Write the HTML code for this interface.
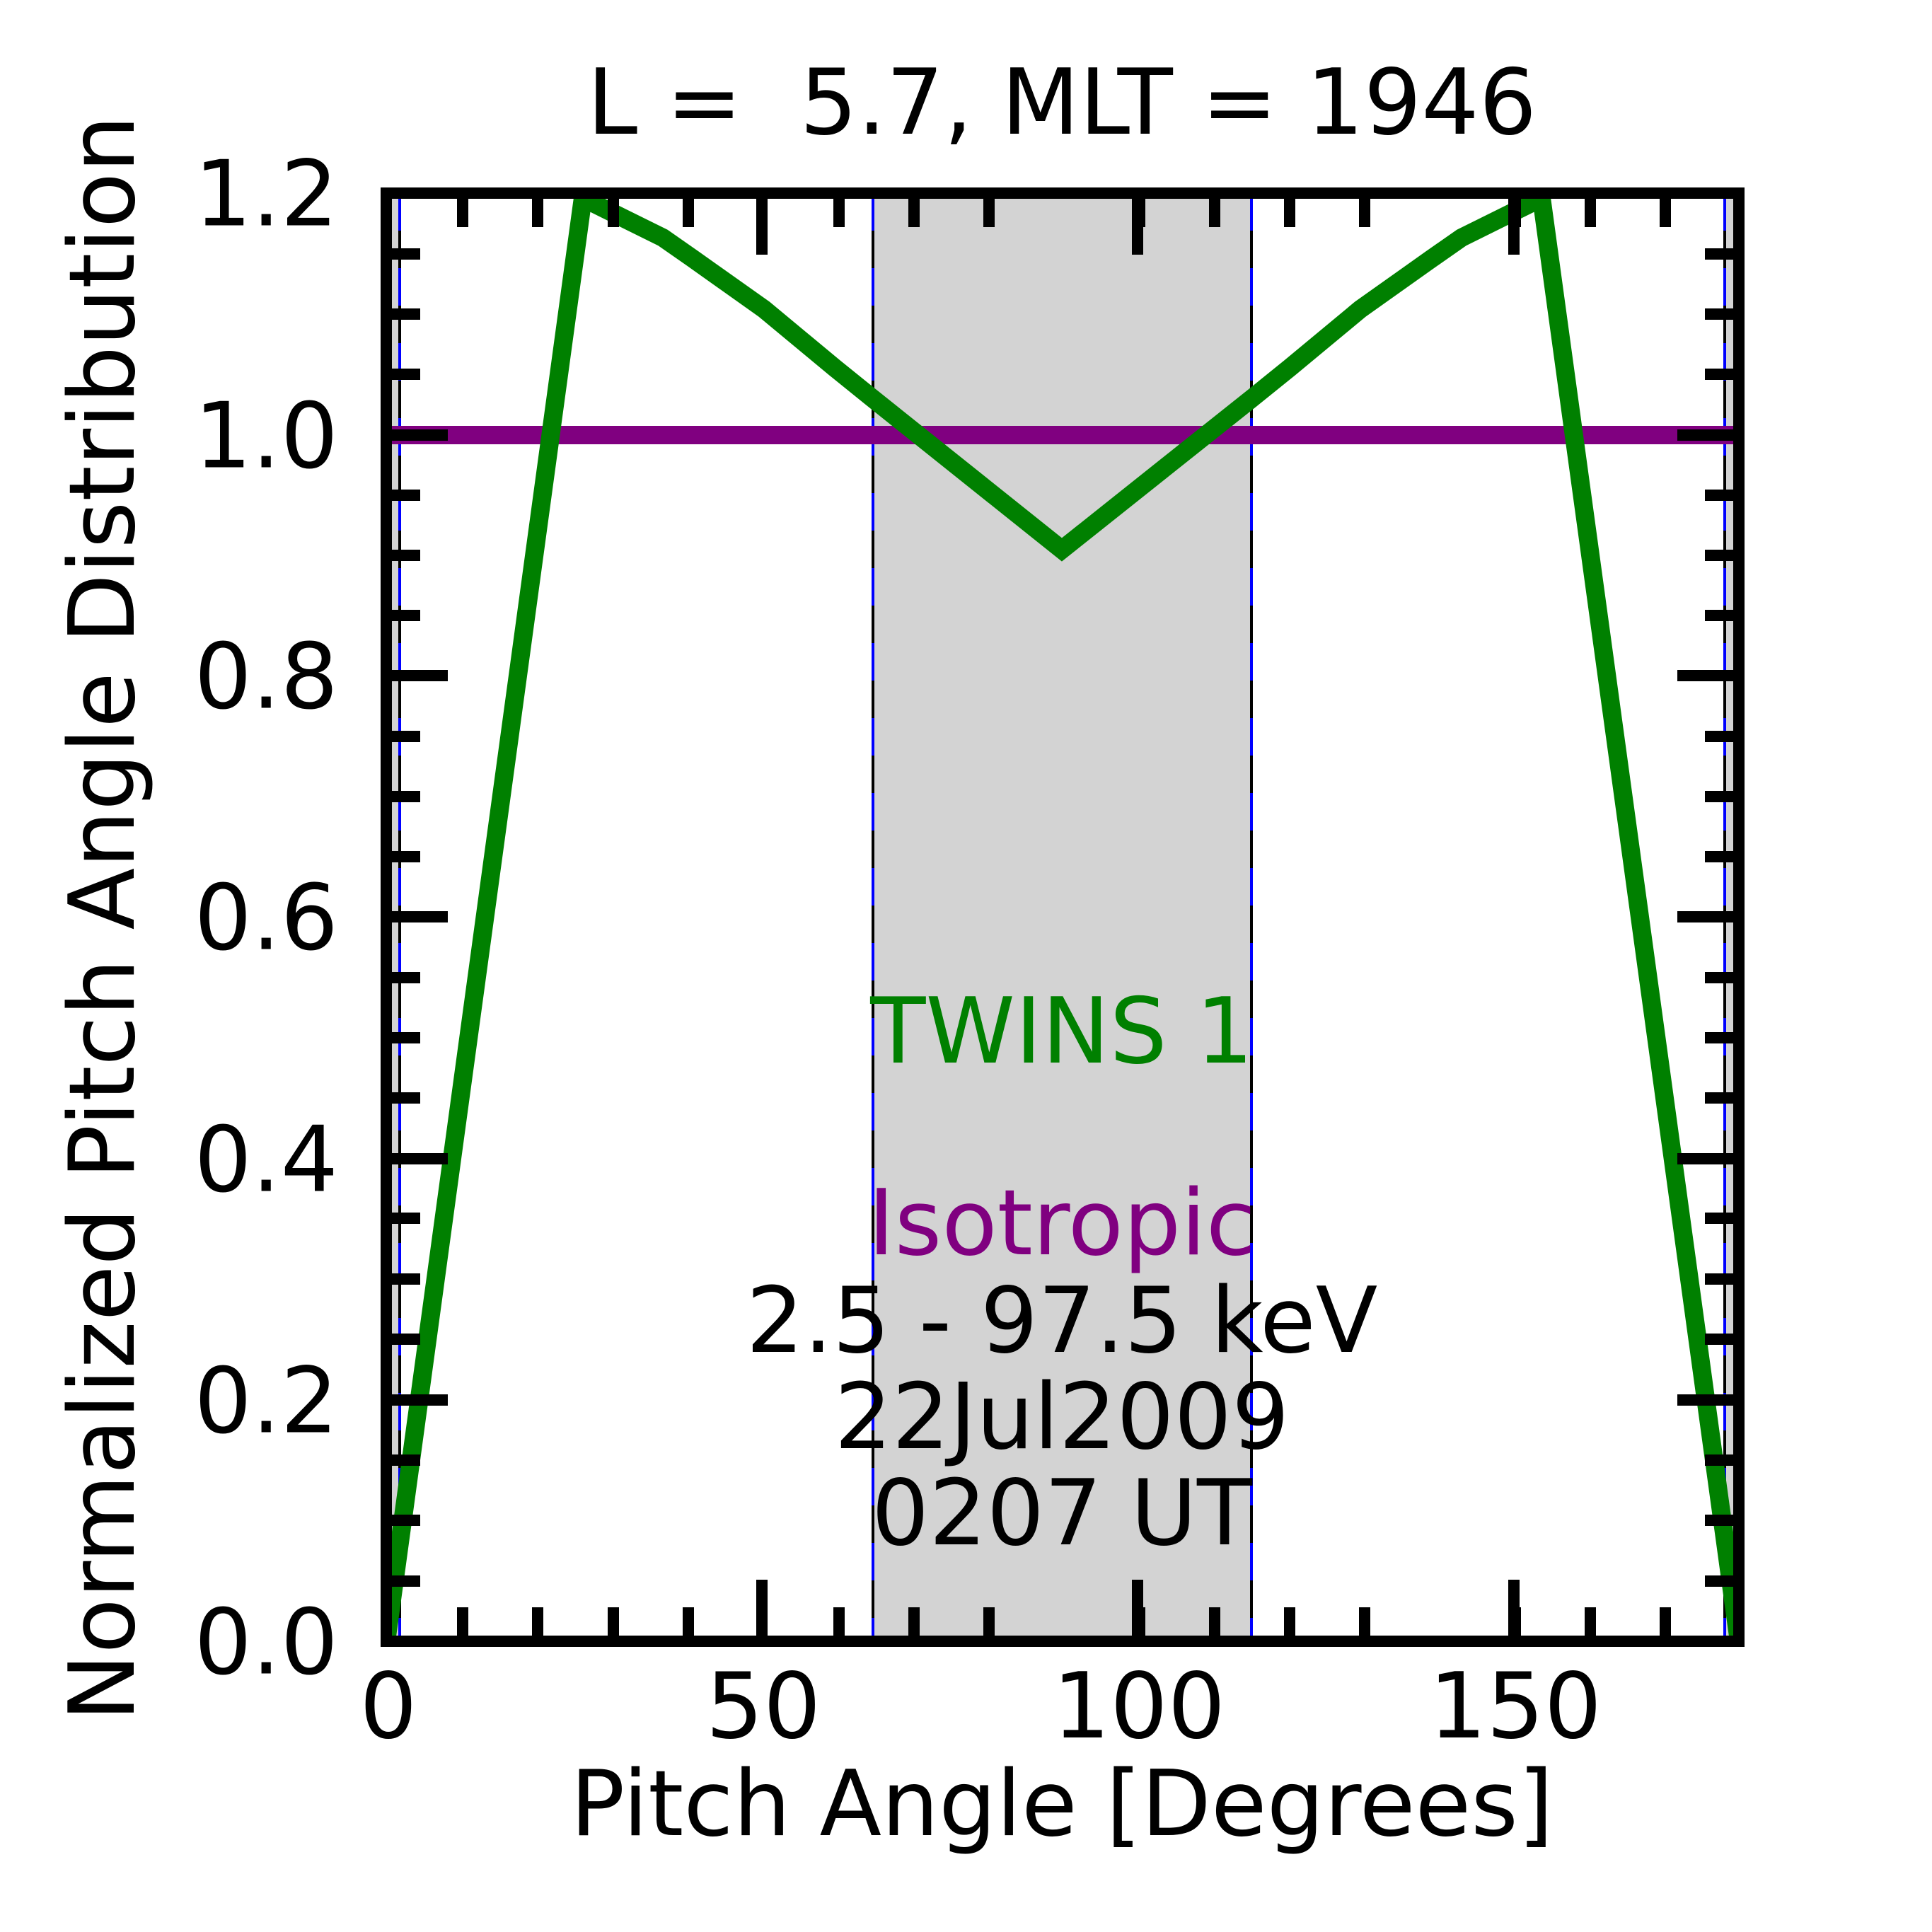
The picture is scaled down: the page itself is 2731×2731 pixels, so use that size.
<!DOCTYPE html>
<html><head><meta charset="utf-8"><style>html,body{margin:0;padding:0;background:#fff}svg{display:block}text{font-family:"DejaVu Sans","Liberation Sans",sans-serif}</style></head>
<body>
<svg width="2731" height="2731" viewBox="0 0 2731 2731" xmlns="http://www.w3.org/2000/svg">
<defs><clipPath id="c"><rect x="546" y="273" width="1912" height="2047"/></clipPath></defs>
<rect width="2731" height="2731" fill="#fff"/>
<g clip-path="url(#c)">
<rect x="1234" y="273" width="535" height="2047" fill="#d3d3d3"/>
<rect x="546" y="273" width="19" height="2047" fill="#d3d3d3"/>
<rect x="2438" y="273" width="20" height="2047" fill="#d3d3d3"/>
<g stroke-width="4">
<line x1="1234" y1="273" x2="1234" y2="2320" stroke="#000"/>
<line x1="1234" y1="273" x2="1234" y2="2320" stroke="#00f" stroke-dasharray="53 53"/>
<line x1="1769" y1="273" x2="1769" y2="2320" stroke="#000"/>
<line x1="1769" y1="273" x2="1769" y2="2320" stroke="#00f" stroke-dasharray="53 53"/>
<line x1="565" y1="273" x2="565" y2="2320" stroke="#000"/>
<line x1="565" y1="273" x2="565" y2="2320" stroke="#00f" stroke-dasharray="53 53"/>
<line x1="2438" y1="273" x2="2438" y2="2320" stroke="#000"/>
<line x1="2438" y1="273" x2="2438" y2="2320" stroke="#00f" stroke-dasharray="53 53"/>
</g>
<line x1="546" y1="615" x2="2458" y2="615" stroke="#800080" stroke-width="26"/>
<polyline fill="none" stroke="#008000" stroke-width="26" stroke-linejoin="miter" points="546,2320 824,280 937,336 980,366 1080,437 1180,520 1232,562 1501,777 1771,562 1823,520 1923,437 2023,366 2066,336 2179,280 2458,2320"/>
</g>
<g stroke="#000" stroke-width="16">
<path d="M654,281v40M760,281v40M867,281v40M973,281v40M1186,281v40M1292,281v40M1398,281v40M1611,281v40M1717,281v40M1823,281v40M1929,281v40M2142,281v40M2248,281v40M2354,281v40"/>
<path d="M654,2312v-40M760,2312v-40M867,2312v-40M973,2312v-40M1186,2312v-40M1292,2312v-40M1398,2312v-40M1611,2312v-40M1717,2312v-40M1823,2312v-40M1929,2312v-40M2142,2312v-40M2248,2312v-40M2354,2312v-40"/>
<path d="M1077,281v79M1608,281v79M2140,281v79M1077,2312v-79M1608,2312v-79M2140,2312v-79"/>
<path d="M554,2235h40M554,2149h40M554,2064h40M554,1979h40M554,1893h40M554,1808h40M554,1722h40M554,1638h40M554,1552h40M554,1467h40M554,1382h40M554,1296h40M554,1211h40M554,1126h40M554,1041h40M554,955h40M554,870h40M554,785h40M554,700h40M554,529h40M554,444h40M554,359h40"/>
<path d="M2450,2235h-40M2450,2149h-40M2450,2064h-40M2450,1979h-40M2450,1893h-40M2450,1808h-40M2450,1722h-40M2450,1638h-40M2450,1552h-40M2450,1467h-40M2450,1382h-40M2450,1296h-40M2450,1211h-40M2450,1126h-40M2450,1041h-40M2450,955h-40M2450,870h-40M2450,785h-40M2450,700h-40M2450,529h-40M2450,444h-40M2450,359h-40"/>
<path d="M554,1979h79M554,1638h79M554,1296h79M554,955h79M554,615h79M2450,1979h-79M2450,1638h-79M2450,1296h-79M2450,955h-79M2450,615h-79"/>
<rect x="546" y="273" width="1912" height="2047" fill="none"/>
</g>
<g font-size="128" fill="#000">
<text x="1501" y="189" text-anchor="middle" xml:space="preserve">L =  5.7, MLT = 1946</text>
<g text-anchor="end" dominant-baseline="central">
<text x="478" y="2322">0.0</text><text x="478" y="1981">0.2</text><text x="478" y="1640">0.4</text><text x="478" y="1298">0.6</text><text x="478" y="957">0.8</text><text x="478" y="617">1.0</text><text x="478" y="275">1.2</text>
</g>
<g text-anchor="middle">
<text x="549" y="2456">0</text><text x="1079" y="2456">50</text><text x="1610" y="2456">100</text><text x="2142" y="2456">150</text>
<text x="1501" y="2594">Pitch Angle [Degrees]</text>
<text transform="translate(189,1298) rotate(-90)">Normalized Pitch Angle Distribution</text>
<text x="1501" y="1502" fill="#008000">TWINS 1</text>
<text x="1501" y="1773" fill="#800080">Isotropic</text>
<text x="1501" y="1911">2.5 - 97.5 keV</text>
<text x="1501" y="2047">22Jul2009</text>
<text x="1501" y="2183">0207 UT</text>
</g>
</g>
</svg>
</body></html>
